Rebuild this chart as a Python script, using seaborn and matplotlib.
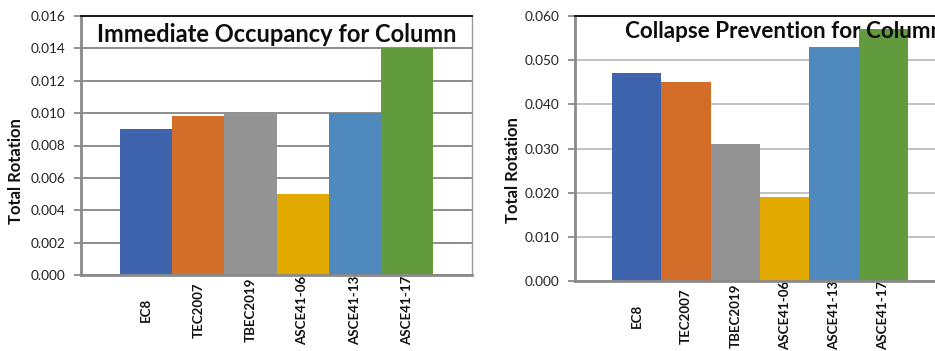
import matplotlib
matplotlib.use("Agg")
import matplotlib.pyplot as plt
import seaborn as sns
import pandas as pd

# Acceptance criteria for column total rotation by code
codes = ["EC8", "TEC2007", "TBEC2019", "ASCE41-06", "ASCE41-13", "ASCE41-17"]
io_values = [0.009, 0.0098, 0.010, 0.005, 0.010, 0.014]
cp_values = [0.047, 0.045, 0.031, 0.019, 0.053, 0.057]
bar_colors = ["#3D64AD", "#D26D2A", "#939393", "#E2A900", "#4F89BD", "#619B3E"]

io_ticks = [0.000, 0.002, 0.004, 0.006, 0.008, 0.010, 0.012, 0.014, 0.016]
io_tick_labels = ["0.000", "0.002", "0.004", "0.006", "0.008", "0.010", "0.012", "0.014", "0.016"]
cp_ticks = [0.000, 0.010, 0.020, 0.030, 0.040, 0.050, 0.060]
cp_tick_labels = ["0.000", "0.010", "0.020", "0.030", "0.040", "0.050", "0.060"]

io_title = "Immediate Occupancy for Column"
cp_title = "Collapse Prevention for Column"
y_label = "Total Rotation"

sns.set_theme(style="white")
plt.rcParams["font.family"] = ["Lato", "DejaVu Sans"]

W, H = 935, 351
fig = plt.figure(figsize=(W / 100, H / 100), dpi=100)


def px_axes(x0, y0, x1, y1):
    return fig.add_axes([x0 / W, 1 - y1 / H, (x1 - x0) / W, (y1 - y0) / H])


ax_io = px_axes(81, 16, 472, 275)
ax_cp = px_axes(575, 16, 945, 281)


def draw(ax, values, ticks, tick_labels, title, grid_color, title_x, title_ha,
         title_y, title_size, label_pad, ylabel_xy):
    df = pd.DataFrame({"code": codes, "value": values})
    sns.barplot(data=df, x="code", y="value", hue="code", palette=bar_colors,
                width=1.0, saturation=1, legend=False, ax=ax, zorder=2,
                linewidth=0, edgecolor="none")
    ax.set_xlim(-1.25, 6.25)
    ax.set_ylim(ticks[0], ticks[-1])
    ax.set_yticks(ticks)
    ax.set_yticklabels(tick_labels, fontsize=9.8, color="#222222")
    ax.yaxis.grid(True, color=grid_color, linewidth=1.4, zorder=0)
    ax.set_axisbelow(True)
    ax.tick_params(axis="y", which="major", left=True, length=5, width=1.2,
                   color="#808080", pad=6)
    ax.tick_params(axis="x", length=0, pad=label_pad)
    ax.set_xticks(range(len(codes)))
    ax.set_xticklabels(codes, rotation=90, va="center", ha="center",
                       fontsize=9.6, fontweight="bold", color="#111111")
    ax.set_xlabel("")
    ax.set_ylabel(y_label, fontsize=12, fontweight="bold", color="#111111")
    ax.yaxis.set_label_coords(*ylabel_xy)
    for side in ["left", "bottom"]:
        ax.spines[side].set_color("#8a8a8a")
        ax.spines[side].set_linewidth(2.0)
    ax.spines["top"].set_color("#1a1a1a")
    ax.spines["top"].set_linewidth(1.4)
    ax.spines["right"].set_color("#9a9a9a")
    ax.spines["right"].set_linewidth(1.0)
    ax.text(title_x, title_y, title, transform=ax.transAxes, ha=title_ha,
            va="center", fontsize=title_size, fontweight="bold",
            color="#0d0d0d", zorder=10)


draw(ax_io, io_values, io_ticks, io_tick_labels, io_title, "#8c8c8c",
     0.501, "center", 0.93, 17, 25.2, (-0.147, 0.40))
draw(ax_cp, cp_values, cp_ticks, cp_tick_labels, cp_title, "#c2c2c2",
     0.135, "left", 0.94, 16.2, 25.0, (-0.146, 0.42))

fig.savefig("out.png", dpi=100)
